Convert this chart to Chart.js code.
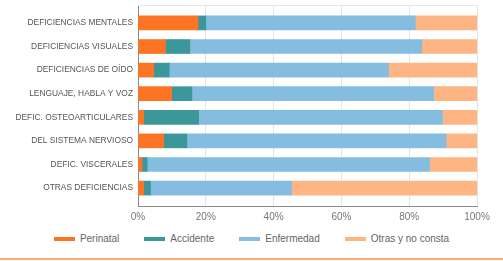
<!DOCTYPE html>
<html>
<head>
<meta charset="utf-8">
<script src="https://cdn.jsdelivr.net/npm/chart.js@4"></script>
<style>
  html, body { margin: 0; padding: 0; background: #fff; }
  #wrap { position: relative; width: 503px; height: 258px; }
  #chart { position: absolute; left: 0; top: 0; }
  #legend {
    position: absolute; left: 0; top: 233px; width: 503px;
    display: flex; justify-content: center; gap: 25px;
    font: 10px 'Liberation Sans', Arial, sans-serif; color: #666; line-height: 12px;
  }
  #legend .item { display: flex; align-items: center; }
  #legend .box { width: 21px; height: 4px; margin-right: 5px; }
  .rule { width: 503px; height: 2px; background: #fbab78; }
</style>
</head>
<body>
<div id="wrap">
  <canvas id="chart" width="503" height="230"></canvas>
  <div id="legend"></div>
</div>
<div class="rule"></div>
<script>
// categories (top to bottom)
const categories = [
  'DEFICIENCIAS MENTALES',
  'DEFICIENCIAS VISUALES',
  'DEFICIENCIAS DE OÍDO',
  'LENGUAJE, HABLA Y VOZ',
  'DEFIC. OSTEOARTICULARES',
  'DEL SISTEMA NERVIOSO',
  'DEFIC. VISCERALES',
  'OTRAS DEFICIENCIAS'
];

// % by origin
const perinatal  = [17.7, 8.1, 4.6, 9.9, 1.7, 7.6, 1.2, 1.7];
const accidente  = [2.3, 7.2, 4.6, 6.0, 16.2, 6.8, 1.5, 2.0];
const enfermedad = [61.8, 68.4, 64.7, 71.3, 71.9, 76.5, 83.3, 41.6];
const otras      = [18.2, 16.3, 26.1, 12.8, 10.2, 9.1, 14.0, 54.7];

const xTicks = [0, 20, 40, 60, 80, 100];

const FONT = "'Liberation Sans', Arial, sans-serif";

// extra room above the first row and below the last one (in rows)
const EDGE = 0.76;

function rows(arr) {
  return arr.map((v, i) => ({ x: v, y: i }));
}

// faint frame line along the top of the plot
const topLine = {
  id: 'topLine',
  beforeDatasetsDraw(chart) {
    const { ctx, chartArea } = chart;
    ctx.save();
    ctx.strokeStyle = '#e4e8ea';
    ctx.lineWidth = 1;
    ctx.beginPath();
    ctx.moveTo(chartArea.left, chartArea.top + 0.5);
    ctx.lineTo(chartArea.right, chartArea.top + 0.5);
    ctx.stroke();
    ctx.restore();
  }
};

function noVertPadding(s) {
  s.paddingTop = 0;
  s.paddingBottom = 0;
}

const chart = new Chart(document.getElementById('chart'), {
  type: 'bar',
  data: {
    datasets: [
      { label: 'Perinatal', data: rows(perinatal), backgroundColor: '#fc7424' },
      { label: 'Accidente', data: rows(accidente), backgroundColor: '#3b979a' },
      { label: 'Enfermedad', data: rows(enfermedad), backgroundColor: '#85bde0' },
      { label: 'Otras y no consta', data: rows(otras), backgroundColor: '#feb584' }
    ]
  },
  options: {
    indexAxis: 'y',
    responsive: false,
    animation: false,
    barThickness: 14,
    layout: { padding: { top: 5, right: 0, left: 0, bottom: 0 } },
    scales: {
      x: {
        stacked: true,
        min: 0,
        max: 100,
        afterBuildTicks: s => { s.ticks = xTicks.map(v => ({ value: v })); },
        afterFit: s => { s.height = 24; },
        grid: { color: '#e2e4e6', drawTicks: false },
        border: { color: '#8a8a8a' },
        ticks: {
          padding: 5,
          color: '#777',
          font: { family: FONT, size: 10 },
          callback: v => v + '%'
        }
      },
      y: {
        type: 'linear',
        stacked: true,
        reverse: true,
        offset: false,
        bounds: 'data',
        min: -EDGE,
        max: categories.length - 1 + EDGE,
        afterBuildTicks: s => {
          s.ticks = categories.map((_, i) => ({ value: i }));
          s.min = -EDGE;
          s.max = categories.length - 1 + EDGE;
        },
        afterFit: s => { s.width = 138; noVertPadding(s); },
        grid: { display: false, drawTicks: false, offset: false },
        border: { color: '#8a8a8a' },
        ticks: {
          padding: 5,
          color: '#555',
          font: { family: FONT, size: 8.4 },
          callback: v => categories[v] || ''
        }
      },
      // empty axis on the right, only reserves the margin
      yRight: {
        type: 'linear',
        position: 'right',
        afterFit: s => { s.width = 26; noVertPadding(s); },
        grid: { display: false, drawTicks: false },
        border: { display: false },
        ticks: { display: false }
      }
    },
    plugins: {
      legend: { display: false },
      tooltip: { enabled: false }
    }
  },
  plugins: [topLine]
});

// html legend built from the datasets
const legendEl = document.getElementById('legend');
chart.data.datasets.forEach(ds => {
  const item = document.createElement('div');
  item.className = 'item';
  const box = document.createElement('span');
  box.className = 'box';
  box.style.background = ds.backgroundColor;
  const txt = document.createElement('span');
  txt.textContent = ds.label;
  item.appendChild(box);
  item.appendChild(txt);
  legendEl.appendChild(item);
});
</script>
</body>
</html>
